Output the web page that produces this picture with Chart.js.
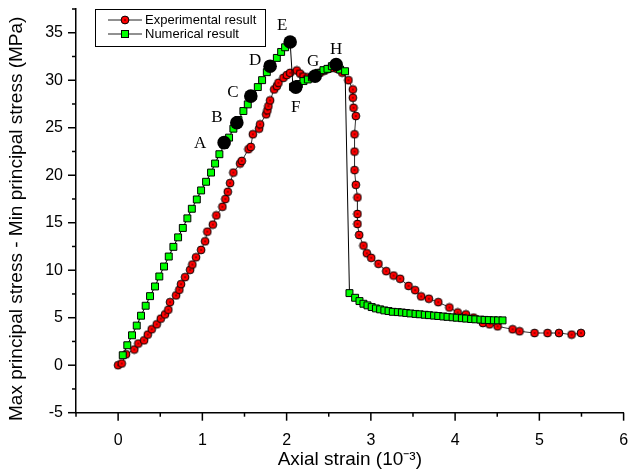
<!DOCTYPE html>
<html><head><meta charset="utf-8">
<script src="https://cdn.jsdelivr.net/npm/chart.js@4.4.1/dist/chart.umd.min.js"></script>
<style>html,body{margin:0;padding:0;background:#fff;overflow:hidden}</style>
</head><body>
<canvas id="c" width="633" height="475" style="display:block;width:633px;height:475px"></canvas>
<script>
// ---------- data ----------
const seriesNames = ['Experimental result', 'Numerical result'];

const experimentalX = [0.000,0.043,0.094,0.192,0.240,0.308,0.352,0.399,0.458,0.506,0.557,0.596,0.616,0.688,0.727,0.747,0.795,0.854,0.881,0.925,0.985,1.032,1.059,1.124,1.166,1.238,1.273,1.302,1.329,1.368,1.448,1.468,1.547,1.575,1.599,1.673,1.685,1.757,1.772,1.784,1.804,1.852,1.884,1.903,1.962,2.002,2.042,2.121,2.160,2.200,2.250,2.300,2.350,2.400,2.450,2.500,2.550,2.600,2.660,2.734,2.786,2.786,2.794,2.822,2.806,2.806,2.806,2.822,2.841,2.841,2.841,2.861,2.912,2.952,3.004,3.090,3.182,3.269,3.348,3.447,3.526,3.597,3.688,3.800,3.932,4.030,4.128,4.219,4.330,4.409,4.504,4.682,4.765,4.943,5.097,5.233,5.383,5.494];
const experimentalY = [0.00,0.18,1.15,1.65,2.28,2.62,3.22,3.78,4.30,4.90,5.35,5.84,6.64,7.35,7.94,8.53,9.27,10.04,10.60,11.36,12.14,13.04,14.06,14.80,15.77,16.68,17.49,18.26,19.17,20.28,21.23,21.51,22.74,22.98,24.31,24.90,25.36,26.41,26.83,27.28,27.88,29.03,29.38,29.73,30.25,30.54,30.78,31.03,30.70,30.40,30.30,30.40,30.60,30.80,31.00,31.20,31.30,31.20,30.80,30.00,29.03,28.16,27.10,26.23,24.31,22.49,20.54,18.99,17.66,15.92,14.87,13.71,12.59,11.78,11.30,10.67,9.90,9.44,9.10,8.35,7.90,7.24,7.00,6.64,6.08,5.55,5.35,5.01,4.44,4.30,4.09,3.78,3.57,3.39,3.39,3.39,3.22,3.39];

const numericalX = [0.055,0.109,0.165,0.221,0.272,0.327,0.379,0.438,0.489,0.545,0.601,0.656,0.712,0.768,0.822,0.875,0.934,0.985,1.044,1.103,1.151,1.202,1.261,1.317,1.368,1.428,1.487,1.539,1.599,1.658,1.709,1.765,1.816,1.884,1.935,1.982,2.042,2.075,2.145,2.200,2.252,2.300,2.338,2.378,2.437,2.485,2.537,2.588,2.635,2.694,2.746,2.813,2.865,2.912,2.960,3.010,3.060,3.110,3.160,3.210,3.260,3.320,3.368,3.420,3.470,3.530,3.580,3.640,3.690,3.750,3.800,3.860,3.910,3.970,4.020,4.080,4.130,4.190,4.240,4.300,4.350,4.400,4.460,4.510,4.563];
const numericalY = [1.05,2.10,3.15,4.17,5.21,6.26,7.27,8.29,9.34,10.39,11.44,12.46,13.46,14.45,15.46,16.47,17.45,18.40,19.31,20.28,21.23,22.21,23.19,23.96,24.90,25.81,26.76,27.46,28.33,29.28,30.01,30.85,31.58,32.35,32.98,33.47,34.03,29.30,29.60,29.91,30.08,30.30,30.43,30.78,31.06,31.20,31.48,31.66,31.13,30.95,7.59,7.10,6.75,6.47,6.30,6.12,5.98,5.88,5.77,5.70,5.62,5.59,5.55,5.50,5.45,5.40,5.36,5.31,5.27,5.22,5.18,5.13,5.09,5.04,5.00,4.95,4.91,4.86,4.83,4.80,4.77,4.75,4.73,4.72,4.72];

const stageLabels = ['A','B','C','D','E','F','G','H'];
const stageX = [1.258,1.409,1.575,1.804,2.042,2.109,2.338,2.588];
const stageY = [23.43,25.53,28.33,31.48,34.03,29.28,30.43,31.66];

const xRange = [-0.5, 6];
const yRange = [-5, 37.5];
const xTickLabels = ['0','1','2','3','4','5','6'];
const yTickLabels = ['-5','0','5','10','15','20','25','30','35'];
const xTitle = 'Axial strain (10\u207B\u00B3)';
const yTitle = 'Max principal stress - Min principal stress (MPa)';

// ---------- styling / drawing ----------
const SANS = "'Liberation Sans', Arial, sans-serif";
Chart.defaults.font.family = SANS;
Chart.defaults.color = '#000';

const zip = (xs, ys) => xs.map((x, i) => ({x, y: ys[i]}));

function redDot(r) {
  const s = Math.ceil(2 * r + 2);
  const c = document.createElement('canvas');
  c.width = s; c.height = s;
  const g = c.getContext('2d');
  g.beginPath(); g.arc(s / 2, s / 2, r, 0, Math.PI * 2);
  g.fillStyle = '#ff0000'; g.fill();
  g.lineWidth = 1; g.strokeStyle = '#000'; g.stroke();
  g.fillStyle = '#000'; g.fillRect(s / 2 - 0.6, s / 2 - 0.6, 1.2, 1.2);
  return c;
}
const redMarker = redDot(3.9);

const stageLabelOffsets = [[-24,1],[-20,-5],[-18,-4],[-15,-6],[-8,-16],[0,20],[-2,-15],[0,-15]];

const ticksPlugin = {
  id: 'ticksPlugin',
  afterDraw(chart) {
    const ctx = chart.ctx, xs = chart.scales.x, ys = chart.scales.y;
    ctx.save();
    ctx.strokeStyle = '#000'; ctx.lineWidth = 1.5;
    xs.ticks.forEach(t => {
      const p = xs.getPixelForValue(t.value);
      const major = Math.abs(t.value - Math.round(t.value)) < 1e-6;
      ctx.beginPath(); ctx.moveTo(p, xs.top); ctx.lineTo(p, xs.top + (major ? 8 : 4)); ctx.stroke();
    });
    ys.ticks.forEach(t => {
      const p = ys.getPixelForValue(t.value);
      const major = Math.abs(t.value / 5 - Math.round(t.value / 5)) < 1e-6;
      ctx.beginPath(); ctx.moveTo(ys.right, p); ctx.lineTo(ys.right - (major ? 8 : 4), p); ctx.stroke();
    });
    ctx.restore();
  }
};

const stagePlugin = {
  id: 'stagePlugin',
  afterDatasetsDraw(chart) {
    const meta = chart.getDatasetMeta(2);
    const ctx = chart.ctx;
    ctx.save();
    ctx.font = "17px 'Liberation Serif', 'Times New Roman', serif";
    ctx.fillStyle = '#000'; ctx.textAlign = 'center'; ctx.textBaseline = 'middle';
    meta.data.forEach((el, i) => {
      const o = stageLabelOffsets[i];
      ctx.fillText(stageLabels[i], el.x + o[0], el.y + o[1]);
    });
    ctx.restore();
  }
};

const legendPlugin = {
  id: 'legendPlugin',
  afterDraw(chart) {
    const ctx = chart.ctx;
    ctx.save();
    ctx.strokeStyle = '#000'; ctx.lineWidth = 1;
    ctx.strokeRect(95.5, 9.5, 170, 37);
    const rows = [20, 34];
    rows.forEach((y, i) => {
      ctx.beginPath(); ctx.moveTo(108, y); ctx.lineTo(142, y);
      ctx.strokeStyle = '#222'; ctx.lineWidth = 1; ctx.stroke();
      if (i === 0) {
        ctx.drawImage(redMarker, 125 - redMarker.width / 2, y - redMarker.height / 2);
      } else {
        ctx.fillStyle = '#00ff00'; ctx.fillRect(121.5, y - 3.5, 7, 7);
        ctx.strokeStyle = '#000'; ctx.strokeRect(121.5, y - 3.5, 7, 7);
      }
      ctx.fillStyle = '#000'; ctx.font = '13px ' + SANS;
      ctx.textAlign = 'left'; ctx.textBaseline = 'middle';
      ctx.fillText(seriesNames[i], 145, y);
    });
    ctx.restore();
  }
};

const hiddenTicks = { display: true, drawOnChartArea: false, drawTicks: true, tickColor: 'rgba(0,0,0,0)' };

new Chart(document.getElementById('c'), {
  type: 'scatter',
  data: {
    datasets: [
      {
        label: seriesNames[0], data: zip(experimentalX, experimentalY),
        showLine: true, borderColor: '#333', borderWidth: 1,
        pointStyle: redMarker, pointRadius: 4, order: 3
      },
      {
        label: seriesNames[1], data: zip(numericalX, numericalY),
        showLine: true, borderColor: '#000', borderWidth: 1,
        pointStyle: 'rect', pointRadius: 4.9, pointBackgroundColor: '#00ff00',
        pointBorderColor: '#000', pointBorderWidth: 1, order: 2
      },
      {
        label: 'stages', data: zip(stageX, stageY),
        showLine: false, pointStyle: 'circle', pointRadius: 6.8,
        pointBackgroundColor: '#000', pointBorderColor: '#000', pointBorderWidth: 0, order: 1
      }
    ]
  },
  options: {
    responsive: false, animation: false,
    layout: { padding: { left: 0, right: 9.4, top: 9, bottom: 0 } },
    plugins: { legend: { display: false }, tooltip: { enabled: false } },
    scales: {
      x: {
        type: 'linear', min: xRange[0], max: xRange[1],
        grid: Object.assign({}, hiddenTicks, { tickLength: 17 }),
        border: { display: true, color: '#000', width: 1.5 },
        ticks: {
          stepSize: 0.5, autoSkip: false, maxRotation: 0, padding: 2,
          font: { size: 16, lineHeight: 1.1 }, color: '#000',
          callback: v => { const i = xTickLabels.indexOf(String(v)); return i >= 0 ? xTickLabels[i] : ''; }
        },
        title: { display: true, text: xTitle, font: { size: 19 }, color: '#000', padding: { top: 4, bottom: 4 } },
        afterFit: s => { s.height = 62.3; }
      },
      y: {
        type: 'linear', min: yRange[0], max: yRange[1],
        grid: Object.assign({}, hiddenTicks, { tickLength: 13 }),
        border: { display: true, color: '#000', width: 1.5 },
        ticks: {
          stepSize: 2.5, autoSkip: false, padding: 0,
          font: { size: 16, lineHeight: 1.1 }, color: '#000',
          callback: v => { const i = yTickLabels.indexOf(String(v)); return i >= 0 ? yTickLabels[i] : ''; }
        },
        title: { display: true, text: yTitle + '   ', font: { size: 19 }, color: '#000', padding: { top: 5, bottom: 4 } },
        afterFit: s => { s.width = 76; }
      }
    }
  },
  plugins: [ticksPlugin, stagePlugin, legendPlugin]
});
</script>
</body></html>
